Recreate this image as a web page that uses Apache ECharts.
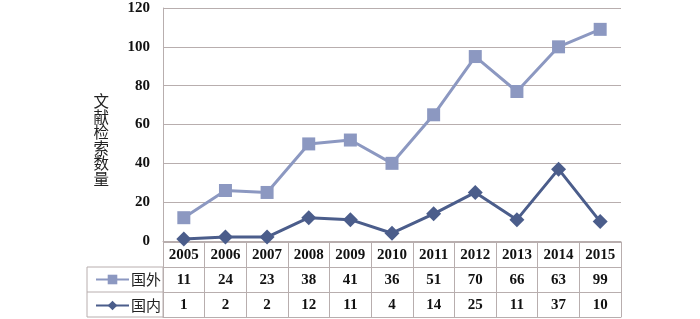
<!DOCTYPE html>
<html><head><meta charset="utf-8">
<script src="https://cdn.jsdelivr.net/npm/echarts@6/dist/echarts.min.js"></script>
<style>html,body{margin:0;padding:0;background:#fff}#c{width:700px;height:319px}</style>
</head><body><div id="c"></div>
<script>
const years = ['2005','2006','2007','2008','2009','2010','2011','2012','2013','2014','2015'];
const foreign = [11,24,23,38,41,36,51,70,66,63,99];
const domestic = [1,2,2,12,11,4,14,25,11,37,10];
const yTicks = [0,20,40,60,80,100,120];
const rowNames = ['year','国外','国内'];

const serif = '"Liberation Serif","Times New Roman",serif';
const gridColor = '#B8AEAE';
const cForeign = '#8C98C1';
const cDomestic = '#4B5D8B';

const tableData = [];
years.forEach((y,i)=>{
  tableData.push([i,0,y]);
  tableData.push([i,1,String(foreign[i])]);
  tableData.push([i,2,String(domestic[i])]);
});

const legendBase = {
  left:90, itemWidth:33, itemHeight:12, selectedMode:false,
  textStyle:{fontFamily:'"Noto Sans CJK SC"',fontSize:15,color:'#222',padding:[0,0,0,-3]}
};

const chart = echarts.init(document.getElementById('c'));
chart.setOption({
  animation:false,
  backgroundColor:'#fff',
  grid:[
    {left:163,right:79,top:8,height:233},
    {left:163,right:79,top:242,height:75}
  ],
  legend:[
    Object.assign({data:['国外'],top:267},legendBase),
    Object.assign({data:['国内'],top:293},legendBase)
  ],
  xAxis:[
    {gridIndex:0,type:'category',data:years,boundaryGap:true,
     axisLine:{show:true,lineStyle:{color:gridColor}},axisTick:{show:false},axisLabel:{show:false}},
    {gridIndex:1,type:'category',data:years,boundaryGap:true,
     axisLine:{show:true,lineStyle:{color:gridColor}},axisTick:{show:false},axisLabel:{show:false},
     splitLine:{show:true,lineStyle:{color:gridColor}}}
  ],
  yAxis:[
    {gridIndex:0,type:'value',min:0,max:120,interval:20,
     axisLine:{show:true,lineStyle:{color:gridColor}},axisTick:{show:false},
     splitLine:{show:true,lineStyle:{color:gridColor,width:1.2}},
     axisLabel:{fontFamily:serif,fontWeight:'bold',fontSize:15,color:'#111',margin:13,
       formatter:v=>yTicks.includes(v)?String(v):''},
     name:' \n \n文\n献\n检\n索\n数\n量',nameLocation:'middle',nameRotate:0,nameGap:54,
     nameTextStyle:{fontFamily:'"Noto Sans CJK SC"',fontSize:15.5,lineHeight:15.5,color:'#222'}},
    {gridIndex:1,type:'category',data:rowNames,inverse:true,boundaryGap:true,
     axisLine:{show:true,lineStyle:{color:gridColor}},axisTick:{show:false},axisLabel:{show:false},
     splitLine:{show:true,lineStyle:{color:gridColor}}}
  ],
  graphic:[
    {type:'rect',shape:{x:87,y:267,width:76,height:50},style:{fill:null,stroke:gridColor,lineWidth:1},silent:true},
    {type:'line',shape:{x1:87,y1:292,x2:163,y2:292},style:{stroke:gridColor,lineWidth:1},silent:true}
  ],
  series:[
    {name:'国内',type:'line',stack:'total',data:domestic,xAxisIndex:0,yAxisIndex:0,
     symbol:'diamond',symbolSize:15,lineStyle:{color:cDomestic,width:3},itemStyle:{color:cDomestic},z:3},
    {name:'国外',type:'line',stack:'total',data:foreign,xAxisIndex:0,yAxisIndex:0,
     symbol:'rect',symbolSize:13,lineStyle:{color:cForeign,width:3},itemStyle:{color:cForeign},z:2},
    {name:'table',type:'custom',xAxisIndex:1,yAxisIndex:1,data:tableData,silent:true,
     renderItem:(params,api)=>{
       const p = api.coord([api.value(0),api.value(1)]);
       return {type:'text',x:p[0],y:p[1]+0.5,style:{text:tableData[params.dataIndex][2],
         fontFamily:serif,fontWeight:'bold',fontSize:15,fill:'#111',align:'center',verticalAlign:'middle'}};
     }}
  ]
});
</script></body></html>
